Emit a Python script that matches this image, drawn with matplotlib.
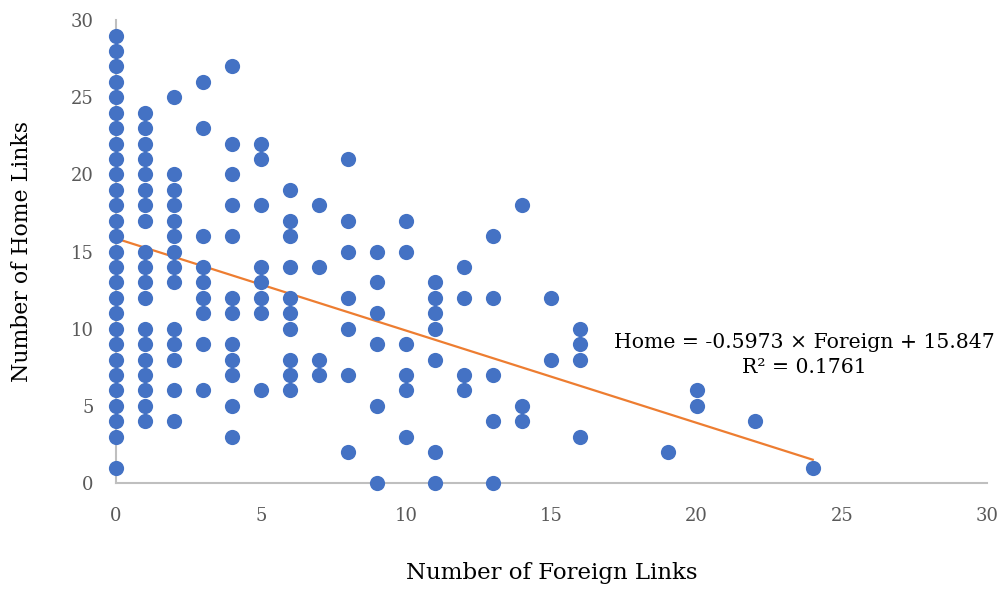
import matplotlib
matplotlib.use("Agg")
import matplotlib.pyplot as plt
import numpy as np

# points, grouped by number of foreign links
home_by_foreign = {
    0: [1, 3, 4, 5, 6, 7, 8, 9, 10, 11, 12, 13, 14, 15, 16, 17, 18, 19, 20,
        21, 22, 23, 24, 25, 26, 27, 28, 29],
    1: [4, 5, 6, 7, 8, 9, 10, 12, 13, 14, 15, 17, 18, 19, 20, 21, 22, 23, 24],
    2: [4, 6, 8, 9, 10, 13, 14, 15, 16, 17, 18, 19, 20, 25],
    3: [6, 9, 11, 12, 13, 14, 16, 23, 26],
    4: [3, 5, 7, 8, 9, 11, 12, 16, 18, 20, 22, 27],
    5: [6, 11, 12, 13, 14, 18, 21, 22],
    6: [6, 7, 8, 10, 11, 12, 14, 16, 17, 19],
    7: [7, 8, 14, 18],
    8: [2, 7, 10, 12, 15, 17, 21],
    9: [0, 5, 9, 11, 13, 15],
    10: [3, 6, 7, 9, 15, 17],
    11: [0, 2, 8, 10, 11, 12, 13],
    12: [6, 7, 12, 14],
    13: [0, 4, 7, 12, 16],
    14: [4, 5, 18],
    15: [8, 12],
    16: [3, 8, 9, 10],
    19: [2],
    20: [5, 6],
    22: [4],
    24: [1],
}

# trendline as printed on the chart
slope = -0.5973
intercept = 15.847
trend_x = [0, 24]
eq_text = "Home = -0.5973 \u00d7 Foreign + 15.847\nR\u00b2 = 0.1761"

foreign = []
home = []
for k, vals in home_by_foreign.items():
    for v in vals:
        foreign.append(k)
        home.append(v)

plt.rcParams['font.family'] = ['DejaVu Serif']

fig = plt.figure(figsize=(10.06, 5.91), dpi=100)
ax = fig.add_axes([0.1153, 0.1827, 0.8657, 0.7833])

ax.scatter(foreign, home, s=120, color='#4472C4', zorder=3, linewidths=0,
           clip_on=False)
tx = np.array(trend_x)
ax.plot(tx, slope * tx + intercept, color='#ED7D31', lw=1.6, zorder=2)

ax.text(23.72, 8.3, eq_text, ha='center', va='center', fontsize=14.7,
        linespacing=1.45)

ax.set_xlim(0, 30)
ax.set_ylim(0, 30)
ax.set_xticks(range(0, 31, 5))
ax.set_yticks(range(0, 31, 5))
ax.tick_params(length=0, labelsize=13, labelcolor='#595959')
ax.tick_params(axis='x', pad=17)
ax.tick_params(axis='y', pad=16)
for s in ['top', 'right']:
    ax.spines[s].set_visible(False)
for s in ['left', 'bottom']:
    ax.spines[s].set_color('#BFBFBF')
    ax.spines[s].set_linewidth(1.5)

ax.set_xlabel('Number of Foreign Links', fontsize=16.5, va='center')
ax.xaxis.set_label_coords(0.5, -0.194)
ax.set_ylabel('Number of Home Links', fontsize=15.8, va='center')
ax.yaxis.set_label_coords(-0.108, 0.5)

fig.savefig('out.png', dpi=100)
